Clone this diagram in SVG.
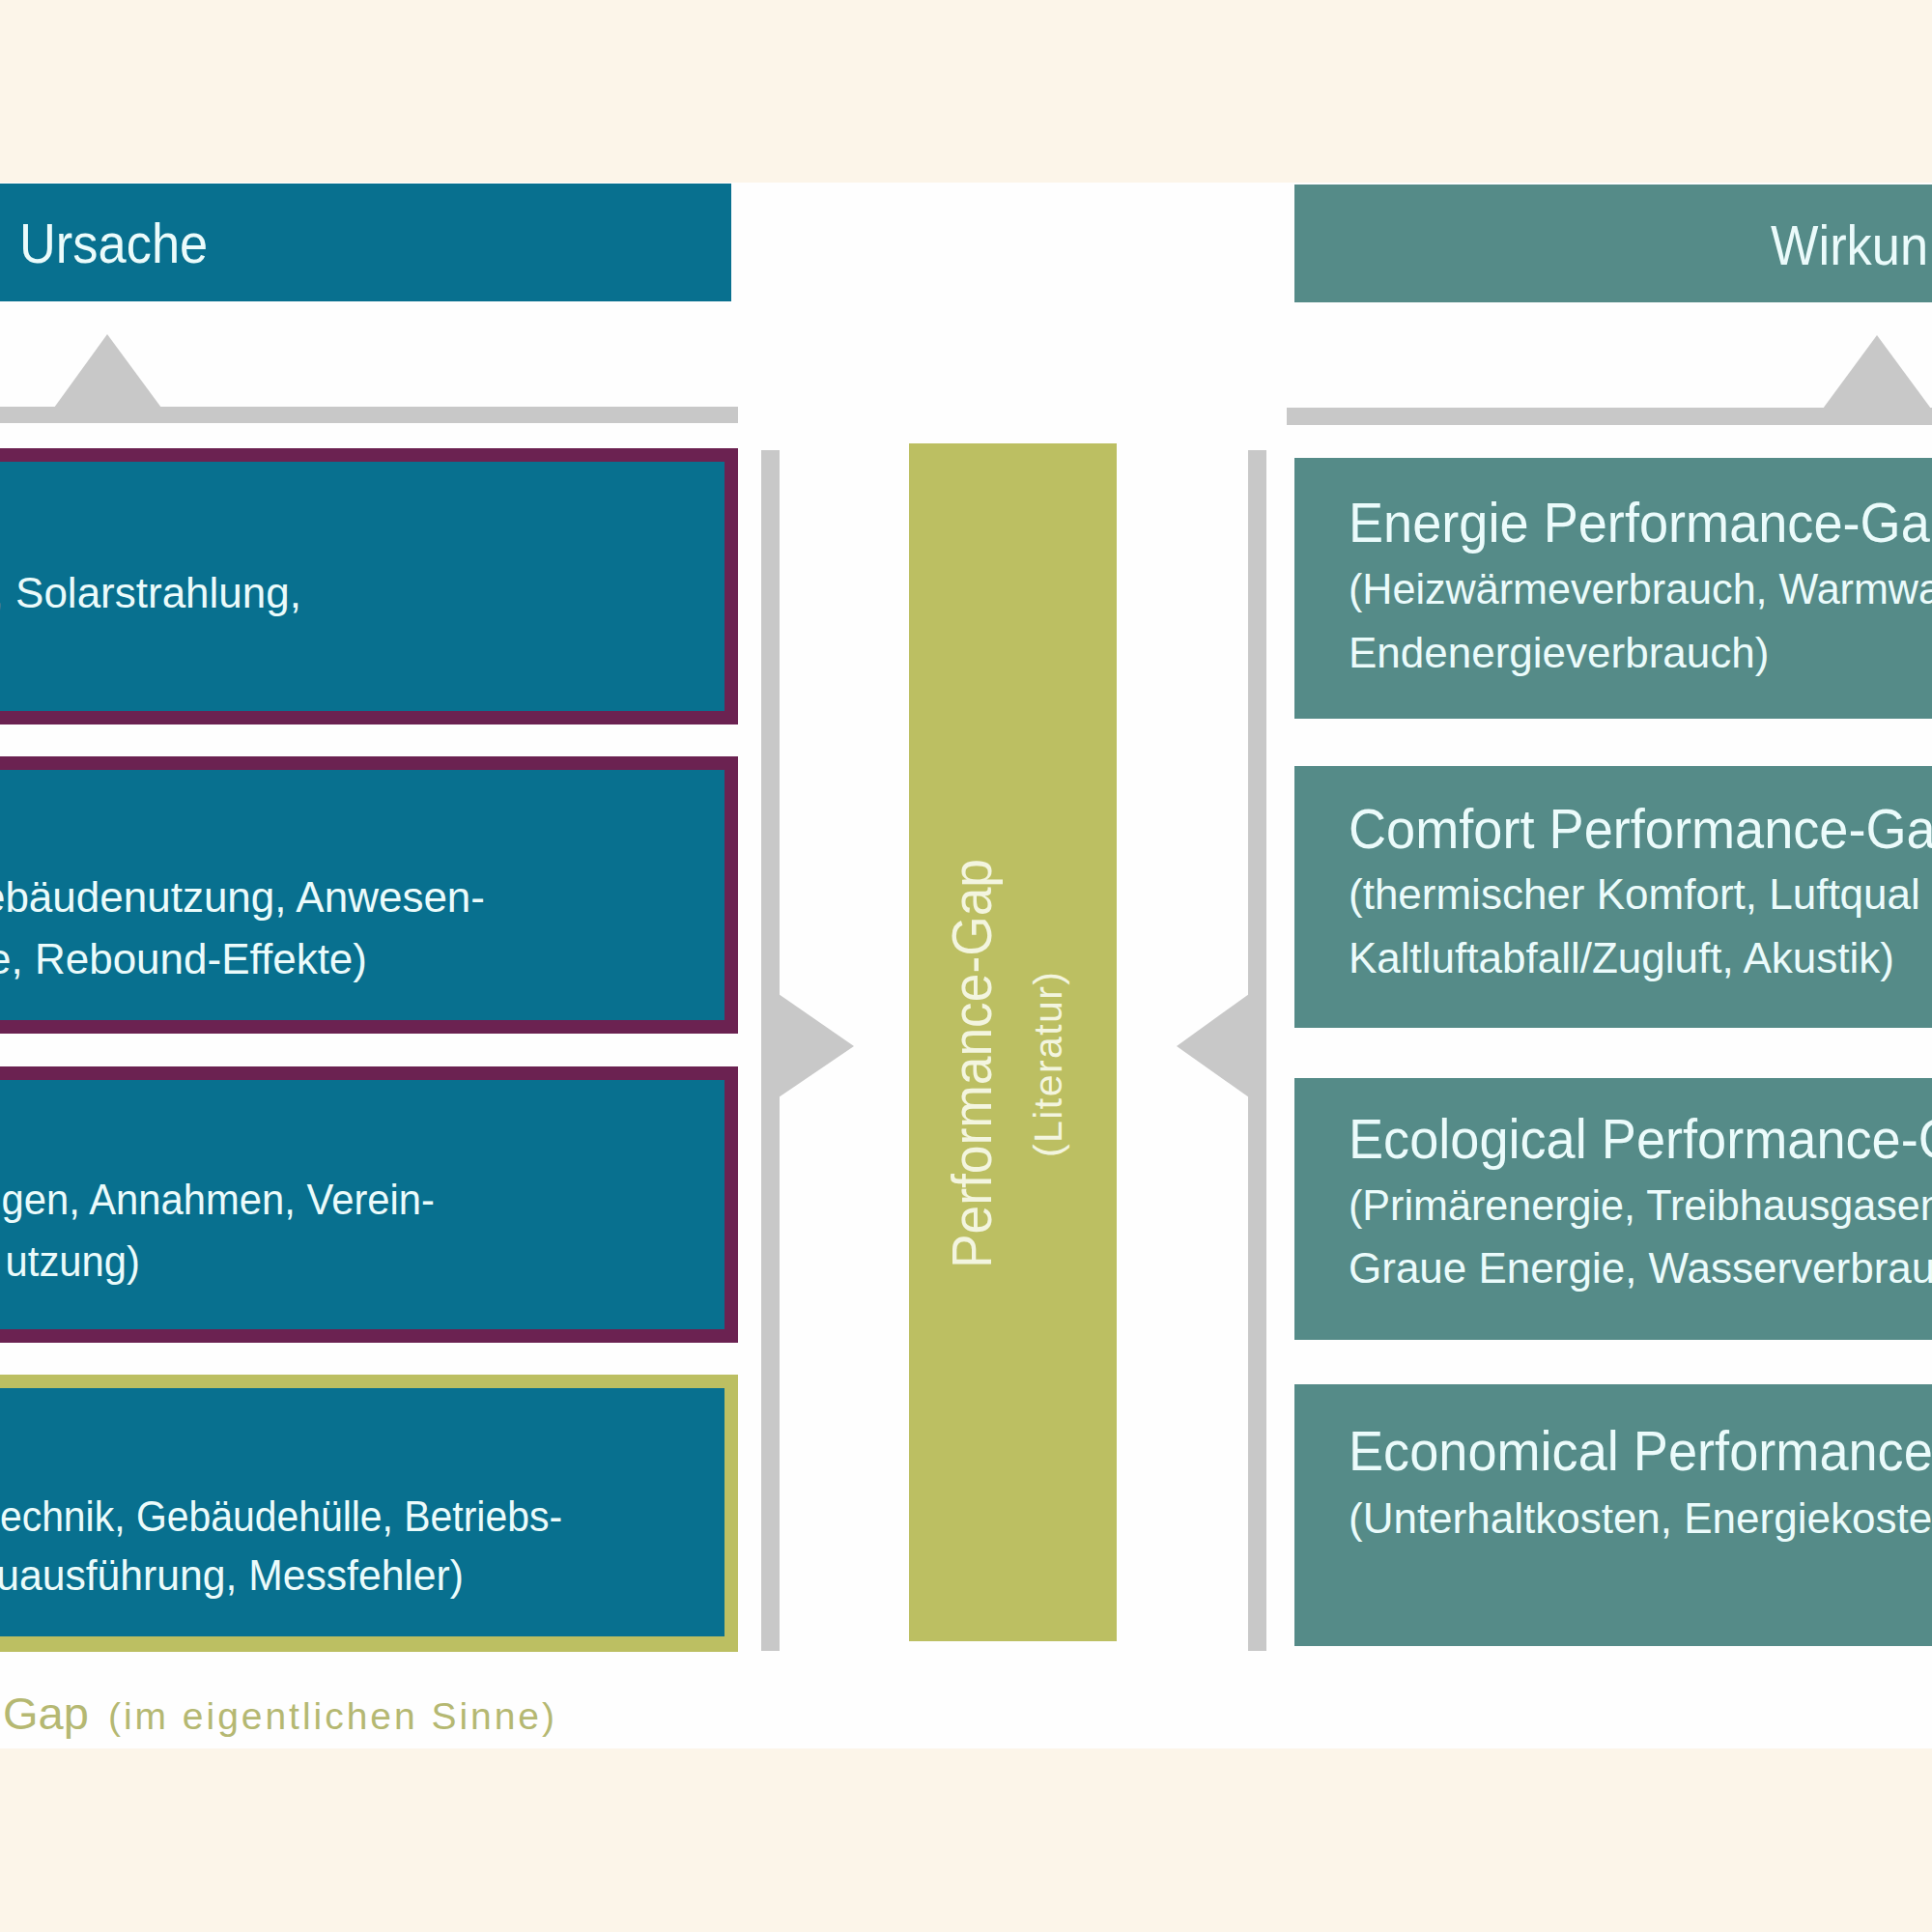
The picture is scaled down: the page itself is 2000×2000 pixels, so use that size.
<svg xmlns="http://www.w3.org/2000/svg" width="2000" height="2000" viewBox="0 0 2000 2000">
<style>
.bg{fill:#fcf5e9}
.wh{fill:#fefefe}
.lt{fill:#08708f}
.pu{fill:#6b2251}
.ol{fill:#bcbf62}
.rt{fill:#558b88}
.gr{fill:#c8c8c8}
.tx{font-family:"Liberation Sans",Arial,sans-serif;fill:#ebfbfb}
.h{font-size:57px}
.b{font-size:44px}
.olt{font-family:"Liberation Sans",Arial,sans-serif;fill:#b5b872}
.pg{font-family:"Liberation Sans",Arial,sans-serif;fill:#f3f5df}
</style>
<rect class="bg" x="0" y="0" width="2000" height="2000"/>
<rect class="wh" x="0" y="189" width="2000" height="1621"/>

<g id="connectors">
  <rect class="gr" x="-10" y="421" width="774" height="17"/>
  <polygon class="gr" points="56,422 111,346 167,422"/>
  <rect class="gr" x="1332" y="422" width="680" height="18"/>
  <polygon class="gr" points="1887,423 1943,347 1999,423"/>
  <rect class="gr" x="788" y="466" width="19" height="1243"/>
  <polygon class="gr" points="806,1029 884,1083 806,1136"/>
  <rect class="gr" x="1292" y="466" width="19" height="1243"/>
  <polygon class="gr" points="1293,1029 1218,1083 1293,1136"/>
</g>

<g id="header-ursache">
  <rect class="lt" x="-10" y="190" width="767" height="122"/>
  <text class="tx h" transform="matrix(0.92 0 0 1 20 272)">Ursache</text>
</g>
<g id="header-wirkung">
  <rect class="rt" x="1340" y="191" width="670" height="122"/>
  <text class="tx h" transform="matrix(0.92 0 0 1 1833 274)">Wirkun</text>
</g>

<g id="cause-1">
  <rect class="pu" x="-20" y="464" width="784" height="286"/>
  <rect class="lt" x="-20" y="478" width="770" height="258"/>
  <text class="tx b" text-anchor="end" x="312" y="629">, Solarstrahlung,</text>
</g>
<g id="cause-2">
  <rect class="pu" x="-20" y="783" width="784" height="287"/>
  <rect class="lt" x="-20" y="797" width="770" height="259"/>
  <text class="tx b" text-anchor="end" x="502" y="944">ebäudenutzung, Anwesen-</text>
  <text class="tx b" text-anchor="end" x="380" y="1008">e, Rebound-Effekte)</text>
</g>
<g id="cause-3">
  <rect class="pu" x="-20" y="1104" width="784" height="286"/>
  <rect class="lt" x="-20" y="1118" width="770" height="258"/>
  <text class="tx b" text-anchor="end" transform="matrix(0.95 0 0 1 450 1257)">gen, Annahmen, Verein-</text>
  <text class="tx b" text-anchor="end" transform="matrix(0.95 0 0 1 145 1321)">utzung)</text>
</g>
<g id="cause-4">
  <rect class="ol" x="-20" y="1423" width="784" height="287"/>
  <rect class="lt" x="-20" y="1437" width="770" height="257"/>
  <text class="tx b" text-anchor="end" transform="matrix(0.93 0 0 1 582 1585)">echnik, Gebäudehülle, Betriebs-</text>
  <text class="tx b" text-anchor="end" transform="matrix(0.97 0 0 1 480 1646)">uausführung, Messfehler)</text>
</g>
<g id="legend-gap">
  <text class="olt" x="3" y="1790" font-size="47">Gap</text>
  <text class="olt" x="112" y="1790" font-size="39" textLength="462" lengthAdjust="spacing">(im eigentlichen Sinne)</text>
</g>

<g id="performance-gap">
  <rect class="ol" x="941" y="459" width="215" height="1240"/>
  <text class="pg" font-size="58" transform="translate(1026,1313) rotate(-90) scale(0.92,1)">Performance-Gap</text>
  <text class="pg" font-size="41" textLength="192" lengthAdjust="spacing" transform="translate(1099,1198) rotate(-90)">(Literatur)</text>
</g>

<g id="effect-energie">
  <rect class="rt" x="1340" y="474" width="670" height="270"/>
  <text class="tx h" transform="matrix(0.95 0 0 1 1396 561)">Energie Performance-Ga</text>
  <text class="tx b" transform="matrix(0.98 0 0 1 1396 625)">(Heizwärmeverbrauch, Warmwa</text>
  <text class="tx b" x="1396" y="691">Endenergieverbrauch)</text>
</g>
<g id="effect-comfort">
  <rect class="rt" x="1340" y="793" width="670" height="271"/>
  <text class="tx h" transform="matrix(0.95 0 0 1 1396 878)">Comfort Performance-Ga</text>
  <text class="tx b" x="1396" y="941">(thermischer Komfort, Luftqual</text>
  <text class="tx b" x="1396" y="1007">Kaltluftabfall/Zugluft, Akustik)</text>
</g>
<g id="effect-ecological">
  <rect class="rt" x="1340" y="1116" width="670" height="271"/>
  <text class="tx h" transform="matrix(0.95 0 0 1 1396 1199)">Ecological Performance-G</text>
  <text class="tx b" transform="matrix(0.98 0 0 1 1396 1263)">(Primärenergie, Treibhausgasen</text>
  <text class="tx b" x="1396" y="1328">Graue Energie, Wasserverbrauc</text>
</g>
<g id="effect-economical">
  <rect class="rt" x="1340" y="1433" width="670" height="271"/>
  <text class="tx h" transform="matrix(0.95 0 0 1 1396 1522)">Economical Performance</text>
  <text class="tx b" x="1396" y="1587">(Unterhaltkosten, Energiekoste</text>
</g>
</svg>
